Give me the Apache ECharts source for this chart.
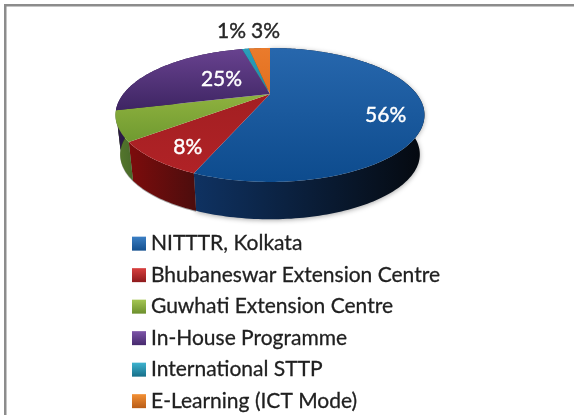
<!DOCTYPE html>
<html>
<head>
<meta charset="utf-8">
<style>html,body{margin:0;padding:0;background:#fff}#c{width:574px;height:415px}</style>
<script src="https://cdn.jsdelivr.net/npm/echarts@6/dist/echarts.min.js"></script>
</head>
<body>
<div id="c"></div>
<script>
const categories = ['NITTTR, Kolkata','Bhubaneswar Extension Centre','Guwhati Extension Centre','In-House Programme','International STTP','E-Learning (ICT Mode)'];
const shares = [56, 8, 7, 25, 1, 3];
const shownLabels = ['56%','8%','','25%','1%','3%'];

// styling
const topTop    = ['#2767ad','#a31f22','#8fb23f','#68428f','#2a9fbb','#ea7b2c'];
const topBottom = ['#0d4b8d','#b02226','#6f9a30','#3e2563','#1d89a6','#e2701f'];
const wallLeft  = ['#0f3262','#7d0c0c','#587a2c','#2c1a48','#10586c','#92470f'];
const wallRight = ['#05090f','#4c0d0d','#48692a','#2c1a48','#10586c','#92470f'];
const iconTop   = ['#3b7fc4','#d8403f','#a5c653','#7d55a8','#3eb3cf','#f39035'];
const iconBot   = ['#14508f','#8e1a1c','#6c8f2d','#46296d','#176f89','#b85c17'];
const labelColors = ['#fff','#fff','#fff','#fff','#262626','#262626'];
const labelRadius = [0.76,0.76,0.76,0.5,1,1];
const labelNudge  = [[1,12],[-1,7],[0,0],[10,-1],[-14,-18],[6,-17]];

// perspective layout of the disc
const APEX_X=270, APEX_Y=94, AX=146.7, BY=60.4, PERSP=0.313, DEPTH=40, BOTTOM_SCALE=0.97;

const total = shares.reduce((a,b)=>a+b,0);
function project(theta,r){
  const u=r*Math.sin(theta), v=r*Math.cos(theta), d=1+PERSP*v;
  return [AX*u/d, -BY*v/d];
}
function grad(dirX,c0,c1){
  return new echarts.graphic.LinearGradient(0,0,dirX?1:0,dirX?0:1,[{offset:0,color:c0},{offset:1,color:c1}]);
}
function arc(a0,a1,fn){
  const n=Math.max(4,Math.ceil((a1-a0)/0.02)), pts=[];
  for(let i=0;i<=n;i++){ pts.push(fn(a0+(a1-a0)*i/n)); }
  return pts;
}
function makeRender(idx){
  return function(params,api){
    const value=api.value(0);
    let before=0; for(let i=0;i<idx;i++) before+=shares[i];
    const a0=before/total*Math.PI*2, a1=(before+value)/total*Math.PI*2;
    const topPt=t=>{const p=project(t,1);return [APEX_X+p[0],APEX_Y+p[1]];};
    const botPt=t=>{const p=project(t,1);return [APEX_X+p[0]*BOTTOM_SCALE,APEX_Y+p[1]*BOTTOM_SCALE+DEPTH];};
    const topArc=arc(a0,a1,topPt), botArc=arc(a0,a1,botPt);
    const mid=(a0+a1)/2, lp=project(mid,labelRadius[idx]);
    const children=[
      {type:'polygon',z2:10+idx,shape:{points:topArc.concat(botArc.slice().reverse())},
       style:{fill:grad(true,wallLeft[idx],wallRight[idx]),
              shadowBlur:idx===0?5:0,shadowColor:'rgba(0,0,0,0.35)',shadowOffsetY:1}},
      {type:'polygon',z2:100,shape:{points:[[APEX_X,APEX_Y]].concat(topArc)},
       style:{fill:grad(false,topTop[idx],topBottom[idx])}}
    ];
    if(shownLabels[idx]){
      children.push({type:'text',z2:200,
        x:APEX_X+lp[0]+labelNudge[idx][0], y:APEX_Y+lp[1]+labelNudge[idx][1],
        style:{text:shownLabels[idx],fill:labelColors[idx],font:'21px Lato',align:'center',verticalAlign:'middle',
               stroke:labelColors[idx],lineWidth:0.4}});
    }
    return {type:'group',children};
  };
}

const chart=echarts.init(document.getElementById('c'),null,{renderer:'canvas'});
chart.setOption({
  animation:false,
  backgroundColor:'#fff',
  graphic:[
    {type:'rect',shape:{x:4,y:4,width:570,height:2.5},style:{fill:'#8c8c8c'},silent:true},
    {type:'rect',shape:{x:4,y:4,width:2.5,height:411},style:{fill:'#8c8c8c'},silent:true}
  ],
  legend:{
    orient:'vertical',left:132,top:233,height:182,padding:0,itemWidth:14,itemHeight:14,
    icon:'rect',selectedMode:false,itemGap:10.2,
    textStyle:{fontFamily:'Lato',fontSize:21,color:'#1f1f1f',textBorderColor:'#1f1f1f',textBorderWidth:0.3},
    data:categories.map((name,i)=>({name,itemStyle:{color:grad(false,iconTop[i],iconBot[i])}}))
  },
  series:categories.map((name,i)=>({
    type:'custom',name,coordinateSystem:'none',
    renderItem:makeRender(i),
    itemStyle:{color:topBottom[i]},
    data:[[shares[i]]],
    silent:true
  }))
});
</script>
</body>
</html>
